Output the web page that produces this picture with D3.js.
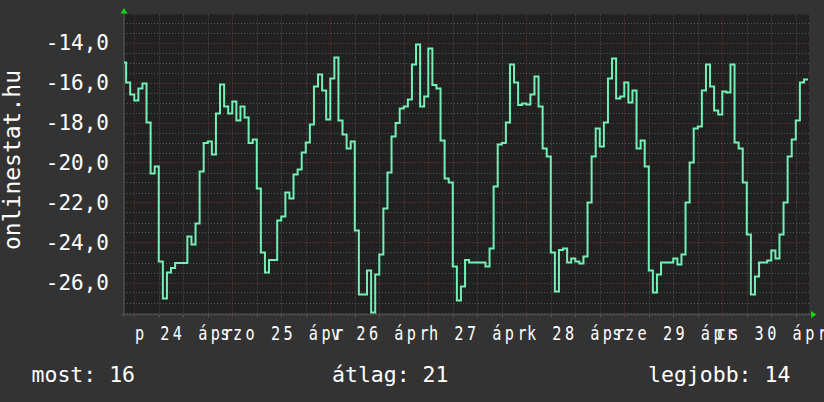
<!DOCTYPE html>
<html><head><meta charset="utf-8">
<script src="https://cdn.jsdelivr.net/npm/d3@7"></script>
<style>
html,body{margin:0;padding:0;background:#333333;}
svg{display:block;}
</style></head>
<body>
<svg id="chart" width="824" height="402"></svg>
<script>
// ---- data ----
const firstSample = "2015-04-23T21:00:00Z";   // hourly samples
const sampleStepHours = 1;
const temperatures = [
 -15.0,-16.0,-16.6,
 -16.9,-16.3,-16.05,-18.0,-20.55,-20.2,-24.95,-26.8,-25.5,-25.28,-25.03,-25.03,
 -25.03,-23.7,-24.1,-23.05,-20.45,-19.03,-18.95,-19.6,-17.55,-16.1,-17.2,-17.55,
 -16.95,-17.9,-17.2,-17.75,-19.03,-18.85,-21.3,-24.5,-25.5,-24.87,-24.87,-22.9,
 -22.7,-21.5,-21.8,-20.6,-20.35,-19.5,-19.0,-18.1,-16.2,-15.6,-16.4,-17.85,
 -15.8,-14.75,-17.9,-18.6,-19.3,-18.95,-23.4,-26.6,-26.6,-25.4,-27.5,-25.6,
 -24.6,-22.3,-20.5,-18.7,-18.03,-17.3,-17.2,-16.85,-15.1,-14.1,-17.2,-16.7,
 -14.3,-16.12,-16.3,-18.9,-20.8,-21.0,-25.2,-26.9,-26.2,-24.87,-25.0,-25.0,
 -25.0,-25.0,-25.2,-24.3,-21.2,-19.1,-19.03,-18.0,-15.1,-16.0,-17.12,-17.05,
 -17.1,-16.6,-15.7,-17.2,-19.3,-19.7,-24.5,-26.45,-24.37,-24.3,-25.0,-24.8,
 -24.95,-25.05,-24.7,-22.0,-19.7,-18.3,-19.2,-18.0,-15.8,-14.8,-16.8,-16.7,
 -16.0,-17.0,-16.4,-19.3,-18.9,-20.2,-25.4,-26.5,-25.6,-25.0,-25.0,-25.0,
 -24.8,-25.1,-24.6,-22.0,-20.0,-18.3,-18.2,-16.4,-15.1,-16.2,-17.4,-17.6,
 -16.45,-16.5,-15.1,-19.0,-19.3,-21.0,-23.6,-26.6,-25.7,-25.0,-25.0,-24.9,
 -24.4,-24.8,-23.6,-22.0,-19.7,-18.85,-17.9,-16.0,-15.85
];
const yMajorTicks = [-26, -24, -22, -20, -18, -16, -14];
const dayLabels = ["p 24 ápr", "szo 25 ápr", "v 26 ápr", "h 27 ápr", "k 28 ápr", "sze 29 ápr", "cs 30 ápr"];
const dayLabelTimes = ["2015-04-24T12:00:00Z","2015-04-25T12:00:00Z","2015-04-26T12:00:00Z",
  "2015-04-27T12:00:00Z","2015-04-28T12:00:00Z","2015-04-29T12:00:00Z","2015-04-30T12:00:00Z"];
const legendLabels = ["most: 16", "átlag: 21", "legjobb: 14"];
const axisTitle = "onlinestat.hu";
const viewStart = "2015-04-23T21:29:00Z";
const viewEnd = "2015-04-30T21:14:00Z";
const yDomain = [-27.6, -12.6];

// ---- layout ----
const W = 824, H = 402;
const plot = {left: 124, right: 809, top: 14.5, bottom: 314.5};
const C = {
  bg: "#333333", canvas: "#212121", minor: "#565656", major: "#7c3232",
  line: "#72f0b6", text: "#ffffff", axis: "#4c4c4c", arrow: "#16d016"
};
const mono = "'DejaVu Sans Mono', 'Liberation Mono', monospace";

const svg = d3.select("#chart");
const x = d3.scaleUtc().domain([new Date(viewStart), new Date(viewEnd)]).range([plot.left, plot.right]);
const y = d3.scaleLinear().domain(yDomain).range([plot.bottom, plot.top]);

svg.append("rect").attr("width", W).attr("height", H).attr("fill", C.bg);
svg.append("rect").attr("x", plot.left).attr("y", plot.top)
  .attr("width", plot.right - plot.left).attr("height", plot.bottom - plot.top).attr("fill", C.canvas);

svg.append("clipPath").attr("id", "clip").append("rect")
  .attr("x", plot.left).attr("y", plot.top - 2)
  .attr("width", plot.right - plot.left).attr("height", plot.bottom - plot.top + 2);

// grid
const grid = svg.append("g");
const sixHours = x.ticks(d3.utcHour.every(6));
const isMidnight = d => d.getUTCHours() === 0;
grid.selectAll(".vminor").data(sixHours.filter(d => !isMidnight(d))).join("line")
  .attr("x1", d => Math.round(x(d)) + 0.5).attr("x2", d => Math.round(x(d)) + 0.5)
  .attr("y1", plot.top).attr("y2", plot.bottom)
  .attr("stroke", C.minor).attr("stroke-dasharray", "1,2");
const yMinor = y.ticks(30).filter(v => !yMajorTicks.includes(v));
grid.selectAll(".hminor").data(yMinor).join("line")
  .attr("x1", plot.left).attr("x2", plot.right + 1)
  .attr("y1", d => Math.round(y(d)) + 0.5).attr("y2", d => Math.round(y(d)) + 0.5)
  .attr("stroke", C.minor).attr("stroke-dasharray", "1,2");
grid.selectAll(".vmajor").data(sixHours.filter(isMidnight)).join("line")
  .attr("x1", d => Math.round(x(d)) + 0.5).attr("x2", d => Math.round(x(d)) + 0.5)
  .attr("y1", plot.top).attr("y2", plot.bottom)
  .attr("stroke", C.major).attr("stroke-dasharray", "1,2");
grid.selectAll(".hmajor").data(yMajorTicks).join("line")
  .attr("x1", plot.left).attr("x2", plot.right + 1)
  .attr("y1", d => Math.round(y(d)) + 0.5).attr("y2", d => Math.round(y(d)) + 0.5)
  .attr("stroke", C.major).attr("stroke-dasharray", "1,2");

// axes lines + ticks
svg.append("line").attr("x1", plot.left - 3).attr("x2", plot.right + 2)
  .attr("y1", plot.bottom).attr("y2", plot.bottom).attr("stroke", C.axis).attr("stroke-width", 1.5);
svg.append("line").attr("x1", plot.left).attr("x2", plot.left)
  .attr("y1", 11).attr("y2", plot.bottom + 3).attr("stroke", C.axis).attr("stroke-width", 1.5);
svg.selectAll(".xt").data(sixHours).join("line")
  .attr("x1", d => Math.round(x(d)) + 0.5).attr("x2", d => Math.round(x(d)) + 0.5)
  .attr("y1", plot.bottom).attr("y2", plot.bottom + 3)
  .attr("stroke", d => isMidnight(d) ? C.major : C.minor);

// series
const t0 = new Date(firstSample).getTime();
const pts = temperatures.map((v, i) => ({t: new Date(t0 + i * sampleStepHours * 3600e3), v}));
pts.push({t: new Date(t0 + temperatures.length * sampleStepHours * 3600e3), v: temperatures[temperatures.length - 1]});
const line = d3.line().x(d => x(d.t)).y(d => y(d.v)).curve(d3.curveStepAfter);
svg.append("path").datum(pts).attr("clip-path", "url(#clip)")
  .attr("d", line).attr("fill", "none").attr("stroke", C.line)
  .attr("stroke-width", 2).attr("stroke-linejoin", "miter");

// arrows
svg.append("path").attr("d", `M${plot.left - 3.5},13.5 L${plot.left + 3.5},13.5 L${plot.left},8 Z`).attr("fill", C.arrow);
svg.append("path").attr("d", `M811,${plot.bottom - 3.5} L811,${plot.bottom + 3.5} L816.5,${plot.bottom} Z`).attr("fill", C.arrow);

// y axis labels
const huFmt = d3.formatLocale({decimal: ",", thousands: " ", grouping: [3], currency: ["", ""], minus: "-"}).format(".1f");
const yAxis = svg.append("g").attr("transform", "translate(109,0)")
  .call(d3.axisLeft(y).tickValues(yMajorTicks).tickSize(0).tickPadding(0).tickFormat(huFmt));
yAxis.select(".domain").remove();
yAxis.selectAll("text").attr("fill", C.text).style("font-family", mono).style("font-size", "21px");

// x axis labels
const xAxis = svg.append("g").attr("transform", "translate(0,0)")
  .call(d3.axisBottom(x).tickValues(dayLabelTimes.map(s => new Date(s)))
    .tickSize(0).tickFormat((d, i) => dayLabels[i]));
xAxis.select(".domain").remove();
xAxis.selectAll("text").attr("y", 340).attr("dy", null).attr("dx", "2.2")
  .attr("fill", C.text).attr("transform", "scale(0.8,1)")
  .style("font-family", mono).style("font-size", "19px").style("letter-spacing", "4.4px");

// axis title
svg.append("text").attr("transform", "translate(19.5,160) rotate(-90)")
  .attr("text-anchor", "middle").attr("fill", C.text)
  .style("font-family", mono).style("font-size", "23px").text(axisTitle);

// legend
const legendX = [31.5, 332, 648];
svg.selectAll(".legend").data(legendLabels).join("text")
  .attr("x", (d, i) => legendX[i]).attr("y", 381.5)
  .attr("fill", C.text).style("font-family", mono).style("font-size", "21.5px")
  .text(d => d);
</script>
</body></html>
